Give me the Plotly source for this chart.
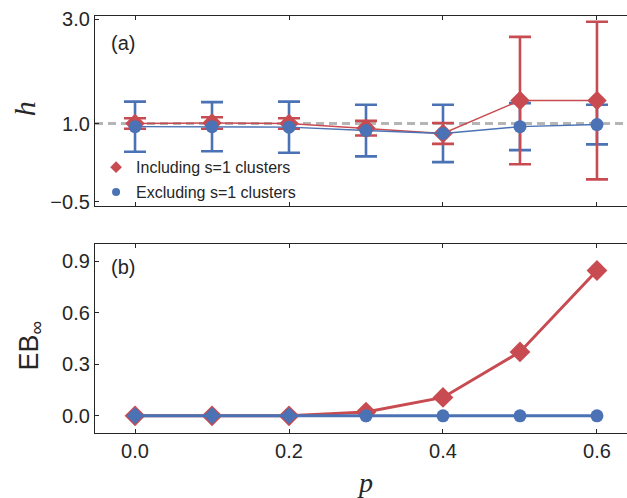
import plotly.graph_objects as go

# ---------------- data ----------------
p_vals = [0.0, 0.1, 0.2, 0.3, 0.4, 0.5, 0.6]

h_incl = [1.00, 1.01, 1.00, 0.91, 0.81, 1.44, 1.44]
h_incl_err = [0.10, 0.11, 0.10, 0.14, 0.20, 1.22, 1.51]

h_excl = [0.94, 0.94, 0.93, 0.865, 0.81, 0.94, 0.98]
h_excl_err = [0.48, 0.47, 0.49, 0.495, 0.55, 0.45, 0.38]

eb_incl = [0.0, 0.0, 0.0, 0.022, 0.107, 0.372, 0.846]
eb_excl = [0.0, 0.0, 0.0, 0.0, 0.0, 0.0, 0.0]

ref_h = 1.0

x_ticks = [0.0, 0.2, 0.4, 0.6]
h_ticks = [-0.5, 1.0, 3.0]
eb_ticks = [0.0, 0.3, 0.6, 0.9]

label_incl = "Including s=1 clusters"
label_excl = "Excluding s=1 clusters"

# ---------------- style ----------------
RED = "#c84b51"
BLUE = "#4a72b5"
AX = "#262626"
FONT = "Liberation Sans, Arial, sans-serif"
SERIF = "Liberation Serif, DejaVu Serif, serif"

fig = go.Figure()

# top panel: error bars first (blue then red), then lines/markers
fig.add_trace(go.Scatter(
    x=p_vals, y=h_excl, mode="markers", xaxis="x", yaxis="y",
    marker=dict(color="rgba(0,0,0,0)", size=1),
    error_y=dict(type="data", array=h_excl_err, color=BLUE, thickness=2.6, width=11),
    showlegend=False, hoverinfo="skip"))
fig.add_trace(go.Scatter(
    x=p_vals, y=h_incl, mode="markers", xaxis="x", yaxis="y",
    marker=dict(color="rgba(0,0,0,0)", size=1),
    error_y=dict(type="data", array=h_incl_err, color=RED, thickness=2.6, width=11),
    showlegend=False, hoverinfo="skip"))
fig.add_trace(go.Scatter(
    x=p_vals, y=h_incl, mode="lines+markers", xaxis="x", yaxis="y",
    line=dict(color=RED, width=1.4),
    marker=dict(symbol="diamond", size=15, color=RED),
    showlegend=False))
fig.add_trace(go.Scatter(
    x=p_vals, y=h_excl, mode="lines+markers", xaxis="x", yaxis="y",
    line=dict(color=BLUE, width=1.4),
    marker=dict(symbol="circle", size=13, color=BLUE),
    showlegend=False))

# legend entries (markers only)
fig.add_trace(go.Scatter(
    x=[None], y=[None], mode="markers", xaxis="x", yaxis="y",
    marker=dict(symbol="diamond", size=9, color=RED),
    name=label_incl, legendgroup="a"))
fig.add_trace(go.Scatter(
    x=[None], y=[None], mode="markers", xaxis="x", yaxis="y",
    marker=dict(symbol="circle", size=8, color=BLUE),
    name=label_excl, legendgroup="b"))

# bottom panel
fig.add_trace(go.Scatter(
    x=p_vals, y=eb_incl, mode="lines+markers", xaxis="x2", yaxis="y2",
    line=dict(color=RED, width=3),
    marker=dict(symbol="diamond", size=16, color=RED),
    showlegend=False))
fig.add_trace(go.Scatter(
    x=p_vals, y=eb_excl, mode="lines+markers", xaxis="x2", yaxis="y2",
    line=dict(color=BLUE, width=3),
    marker=dict(symbol=["diamond", "diamond", "diamond", "circle", "circle", "circle", "circle"],
                size=13, color=BLUE, opacity=1),
    showlegend=False))

# dashed reference line at h = 1
fig.add_shape(type="line", xref="x domain", yref="y", x0=0, x1=1, y0=ref_h, y1=ref_h,
              line=dict(color="#b5b5b5", width=3, dash="8px,5px"), layer="below")

xcommon = dict(range=[-0.052, 0.639], tickvals=x_ticks, tickformat=".1f",
               ticks="inside", ticklen=4, tickwidth=1, tickcolor=AX,
               showline=True, linecolor=AX, linewidth=1.3, mirror="ticks",
               showgrid=False, zeroline=False,
               tickfont=dict(family=FONT, size=20, color=AX))
ycommon = dict(ticks="inside", ticklen=4, tickwidth=1, tickcolor=AX,
               showline=True, linecolor=AX, linewidth=1.3, mirror=False,
               showgrid=False, zeroline=False, tickformat=".1f",
               tickfont=dict(family=FONT, size=20, color=AX))

top_dom = [0.5444, 1.0]
bot_dom = [0.0, 0.4532]

fig.update_layout(
    width=627, height=498,
    margin=dict(l=95, r=0, t=16, b=65),
    paper_bgcolor="white", plot_bgcolor="white",
    xaxis=dict(**xcommon, anchor="y", domain=[0, 1], showticklabels=False),
    yaxis=dict(**ycommon, domain=top_dom, range=[-0.58, 3.06], tickvals=h_ticks, anchor="x"),
    xaxis2=dict(**xcommon, anchor="y2", domain=[0, 1]),
    yaxis2=dict(**ycommon, domain=bot_dom, range=[-0.1, 1.0], tickvals=eb_ticks, anchor="x2"),
    legend=dict(x=0.002, y=0.678, xanchor="left", yanchor="top",
                bgcolor="rgba(0,0,0,0)", font=dict(family=FONT, size=16, color=AX),
                tracegroupgap=1, traceorder="grouped"),
    showlegend=True,
)

annos = [
    dict(text="(a)", x=0.0526, y=0.935, font=dict(family=FONT, size=20, color=AX)),
    dict(text="(b)", x=0.0526, y=0.398, font=dict(family=FONT, size=20, color=AX)),
    dict(text="<i>h</i>", x=-0.131, y=0.777, textangle=-90,
         font=dict(family=SERIF, size=30, color=AX)),
    dict(text="EB<sub>∞</sub>", x=-0.12, y=0.21, textangle=-90,
         font=dict(family=FONT, size=27, color=AX)),
    dict(text="<i>p</i>", x=0.5075, y=-0.118,
         font=dict(family=SERIF, size=28, color=AX)),
]
for a in annos:
    fig.add_annotation(xref="paper", yref="paper", showarrow=False,
                       xanchor="center", yanchor="middle", **a)

fig.write_html("out.html", config={"displayModeBar": False},
               post_script="document.body.style.margin='0px';")
